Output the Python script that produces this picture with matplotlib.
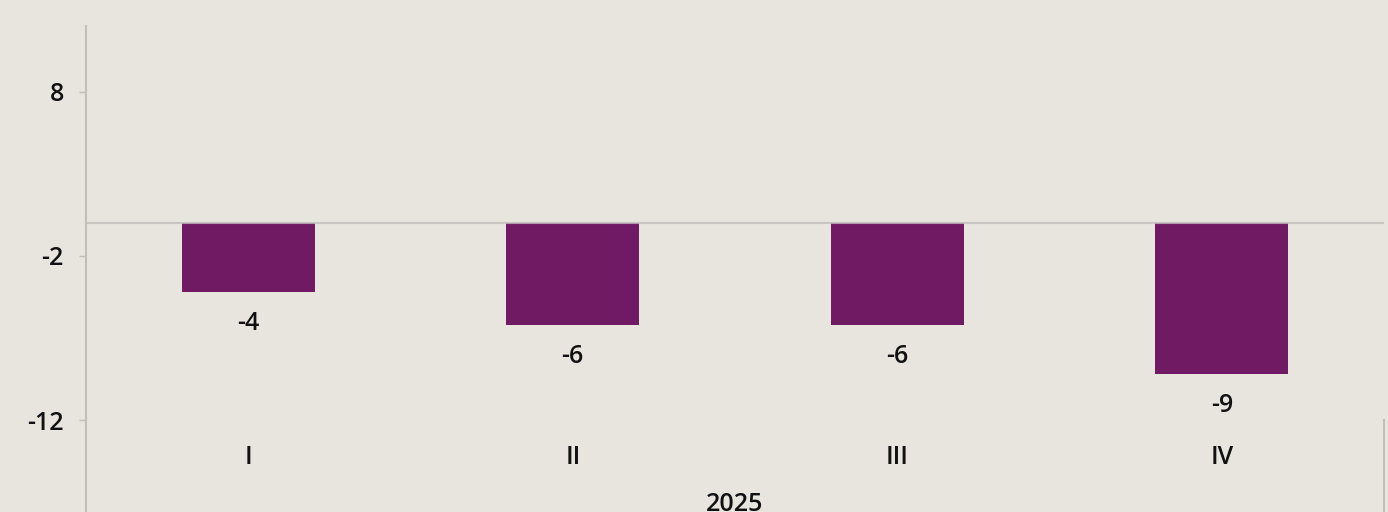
import matplotlib
matplotlib.use("Agg")
import matplotlib.pyplot as plt
import numpy as np

# data
quarters = ["I", "II", "III", "IV"]
year_label = "2025"
values = [-4.2, -6.2, -6.2, -9.2]
y_ticks = [8, -2, -12]

bg = "#e8e5df"
bar_color = "#701a64"
line_color = "#c2bfbb"
text_color = "#111111"

plt.rcParams['font.family'] = ['Open Sans', 'DejaVu Sans']
plt.rcParams['font.weight'] = 'semibold'
plt.rcParams['axes.unicode_minus'] = False

fig = plt.figure(figsize=(13.88, 5.12), dpi=100, facecolor=bg)
ax = fig.add_axes([86 / 1388, 92 / 512, 1298 / 1388, 394 / 512])
ax.set_facecolor(bg)

x = np.arange(len(quarters))
bars = ax.bar(x, values, width=0.41, color=bar_color, zorder=2)

# zero line
ax.axhline(0, color=line_color, lw=1.5, zorder=3, alpha=0.8)

for xi, v in zip(x, values):
    ax.annotate(f"{v:.0f}", (xi, v), xytext=(0, -14), textcoords="offset points",
                ha="center", va="top", fontsize=18, color=text_color)

ax.set_xlim(-0.5, len(quarters) - 0.5)
ax.set_ylim(-12, 12)
ax.set_yticks(y_ticks)
ax.set_yticklabels([str(t) for t in y_ticks], fontsize=18, color=text_color)
ax.tick_params(axis="y", length=5, width=1, color=line_color, pad=11)

ax.set_xticks(x)
ax.set_xticklabels(quarters, fontsize=18, color=text_color)
ax.tick_params(axis="x", length=0, pad=18)

for s in ["top", "right", "bottom"]:
    ax.spines[s].set_visible(False)
ax.spines["left"].set_color(line_color)
ax.spines["left"].set_linewidth(1.5)

# multi-level category axis lines below the plot
ax.plot([0, 0], [0, -0.3], transform=ax.transAxes, color=line_color, lw=1.5, clip_on=False)
ax.plot([1, 1], [0, -0.3], transform=ax.transAxes, color=line_color, lw=1.5, clip_on=False)

ax.text(0.5, -0.215, year_label, transform=ax.transAxes, ha="center", va="center",
        fontsize=18, color=text_color)

fig.savefig("out.png", dpi=100, facecolor=bg)
